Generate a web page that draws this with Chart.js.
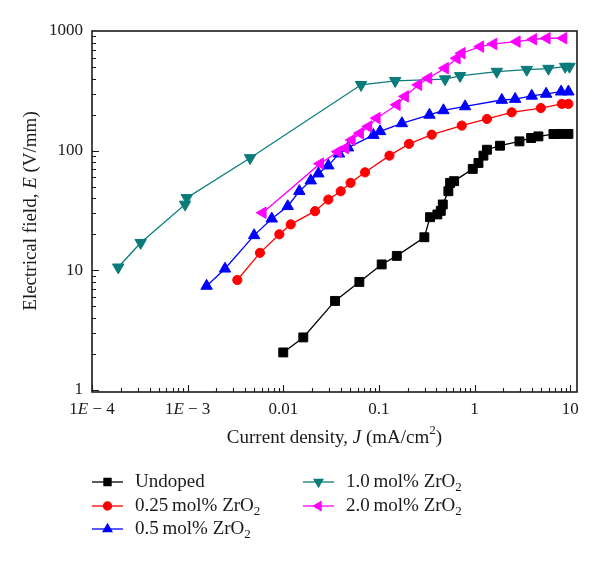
<!DOCTYPE html>
<html>
<head>
<meta charset="utf-8">
<script src="https://cdn.jsdelivr.net/npm/chart.js@4.4.0/dist/chart.umd.min.js"></script>
<style>
  html, body { margin: 0; padding: 0; background: #fff; }
</style>
</head>
<body>
<canvas id="chart" width="600" height="565"></canvas>
<script>
// axis ticks
const xTicks = [1e-4, 1e-3, 0.01, 0.1, 1, 10];
const xTickLabels = ['1E − 4', '1E − 3', '0.01', '0.1', '1', '10'];
const yTicks = [1, 10, 100, 1000];
const yTickLabels = ['1', '10', '100', '1000'];

// series (J in mA/cm2, E in V/mm)
const seriesNames = ['Undoped', '0.25 mol% ZrO2', '0.5 mol% ZrO2', '1.0 mol% ZrO2', '2.0 mol% ZrO2'];

const undopedJ = [0.01, 0.0162, 0.0348, 0.0625, 0.107, 0.154, 0.299, 0.343, 0.409, 0.444, 0.466, 0.533, 0.556, 0.612, 0.959, 1.10, 1.24, 1.35, 1.85, 2.95, 3.91, 4.66, 6.69, 7.86, 9.6];
const undopedE = [2.06, 2.75, 5.55, 8.0, 11.2, 13.2, 18.9, 27.8, 29.3, 31.4, 35.5, 45.8, 53.8, 55.6, 70.4, 78.9, 90.9, 101.8, 110, 119.6, 127.6, 131.6, 137.7, 138, 138];

const zr025J = [3.31e-3, 5.71e-3, 9.1e-3, 0.01197, 0.0215, 0.0296, 0.0399, 0.0506, 0.0717, 0.129, 0.207, 0.357, 0.736, 1.35, 2.45, 4.94, 8.19, 9.6];
const zr025E = [8.3, 14.0, 20.0, 24.2, 31.2, 39.0, 45.8, 53.8, 65.9, 90.9, 114, 136, 162, 184, 209, 227, 246, 246];

const zr05J = [1.58e-3, 2.46e-3, 4.96e-3, 7.58e-3, 0.01114, 0.01473, 0.0194, 0.0233, 0.0296, 0.0383, 0.0476, 0.0876, 0.103, 0.174, 0.338, 0.473, 0.797, 1.93, 2.66, 3.97, 5.61, 8.05, 9.6];
const zr05E = [7.4, 10.3, 19.6, 27.0, 34.3, 45.8, 56.2, 64.3, 75, 94.4, 106, 135, 145, 169, 199, 217, 234, 265, 270, 287, 298, 311, 311];

const zr10J = [1.88e-4, 3.23e-4, 9.4e-4, 9.8e-4, 4.5e-3, 0.0651, 0.148, 0.492, 0.707, 1.71, 3.52, 5.93, 8.87, 9.84];
const zr10E = [10.6, 17.0, 35.5, 40.3, 86.9, 355, 383, 396, 422, 458, 475, 485, 504, 504];

const zr20J = [6.11e-3, 0.0243, 0.0374, 0.0443, 0.0521, 0.0636, 0.0777, 0.0951, 0.154, 0.188, 0.259, 0.330, 0.492, 0.653, 0.736, 1.15, 1.58, 2.77, 4.13, 5.70, 8.51];
const zr20E = [30.3, 77.9, 98, 105, 123, 140, 159, 187, 242, 284, 355, 403, 489, 591, 652, 740, 780, 815, 853, 870, 870];

const FONT = '"Liberation Serif", "Times New Roman", serif';

function pts(J, E) {
  return J.map((j, i) => ({ x: j, y: E[i] }));
}

function makeSet(i, J, E, color, style, rot, radius) {
  return {
    label: seriesNames[i],
    data: pts(J, E),
    borderColor: color,
    backgroundColor: color,
    borderWidth: 1.3,
    pointStyle: style,
    pointRotation: rot,
    pointRadius: radius,
    pointBackgroundColor: color,
    pointBorderColor: color,
    pointBorderWidth: 1,
    tension: 0,
    order: 4 - i
  };
}

const datasets = [
  makeSet(0, undopedJ, undopedE, '#000000', 'rect', 0, 6.3),
  makeSet(1, zr025J, zr025E, '#ff0000', 'circle', 0, 4.6),
  makeSet(2, zr05J, zr05E, '#0000ff', 'triangle', 0, 6.6),
  makeSet(3, zr10J, zr10E, '#0a7b7b', 'triangle', 180, 6.6),
  makeSet(4, zr20J, zr20E, '#ff00ff', 'triangle', 270, 6.6)
];

// draws text pieces left to right; pieces: {t, it, sup, sub}
function richWidth(ctx, parts, size) {
  let w = 0;
  for (const p of parts) {
    const s = (p.sup || p.sub) ? Math.round(size * 0.68) : size;
    ctx.font = (p.it ? 'italic ' : '') + s + 'px ' + FONT;
    w += ctx.measureText(p.t).width;
  }
  return w;
}
function drawRich(ctx, parts, x, y, size, align) {
  let cx = x;
  if (align === 'center') cx = x - richWidth(ctx, parts, size) / 2;
  ctx.textAlign = 'left';
  ctx.textBaseline = 'middle';
  for (const p of parts) {
    const s = (p.sup || p.sub) ? Math.round(size * 0.68) : size;
    ctx.font = (p.it ? 'italic ' : '') + s + 'px ' + FONT;
    let dy = 0;
    if (p.sup) dy = -size * 0.38;
    if (p.sub) dy = size * 0.28;
    ctx.fillText(p.t, cx, y + dy);
    cx += ctx.measureText(p.t).width;
  }
}
function labelParts(label) {
  if (label.endsWith('ZrO2')) {
    return [{ t: label.slice(0, -1).replace(' mol', '\u2009mol') }, { t: '2', sub: true }];
  }
  return [{ t: label }];
}

const framePlugin = {
  id: 'frame',
  afterDraw(chart) {
    const ctx = chart.ctx;
    const a = chart.chartArea;
    const xs = chart.scales.x, ys = chart.scales.y;
    ctx.save();
    ctx.strokeStyle = '#1a1a1a';
    ctx.fillStyle = '#1a1a1a';

    // box
    ctx.lineWidth = 1.6;
    ctx.strokeRect(a.left, a.top, a.right - a.left, a.bottom - a.top);

    // inward tick marks
    ctx.lineWidth = 1.1;
    ctx.beginPath();
    for (let d = -4; d <= 1; d++) {
      for (let m = 1; m <= 9; m++) {
        const v = m * Math.pow(10, d);
        if (v < xs.min || v > xs.max) continue;
        const px = Math.round(xs.getPixelForValue(v)) + 0.5;
        const len = m === 1 ? 7 : 4;
        ctx.moveTo(px, a.bottom);
        ctx.lineTo(px, a.bottom - len);
      }
    }
    for (let d = 0; d <= 2; d++) {
      for (let m = 1; m <= 9; m++) {
        const v = m * Math.pow(10, d);
        if (v < ys.min || v > ys.max) continue;
        const py = Math.round(ys.getPixelForValue(v)) + 0.5;
        const len = m === 1 ? 7 : 4;
        ctx.moveTo(a.left, py);
        ctx.lineTo(a.left + len, py);
      }
    }
    ctx.stroke();

    // tick labels
    xTicks.forEach((v, i) => {
      const px = xs.getPixelForValue(v);
      const s = xTickLabels[i];
      let parts;
      if (s.includes('E')) {
        const k = s.indexOf('E');
        parts = [{ t: s.slice(0, k) }, { t: 'E', it: true }, { t: s.slice(k + 1) }];
      } else {
        parts = [{ t: s }];
      }
      drawRich(ctx, parts, px, a.bottom + 18, 17, 'center');
    });
    ctx.textAlign = 'right';
    ctx.textBaseline = 'middle';
    ctx.font = '17px ' + FONT;
    yTicks.forEach((v, i) => {
      ctx.fillText(yTickLabels[i], a.left - 9, ys.getPixelForValue(v));
    });

    // axis titles
    drawRich(ctx, [{ t: 'Current density, ' }, { t: 'J', it: true }, { t: ' (mA/cm' }, { t: '2', sup: true }, { t: ')' }],
      (a.left + a.right) / 2, 438, 19, 'center');
    ctx.save();
    ctx.translate(31, 211);
    ctx.rotate(-Math.PI / 2);
    drawRich(ctx, [{ t: 'Electrical field, ' }, { t: 'E', it: true }, { t: ' (V/mm)' }], 0, 0, 19, 'center');
    ctx.restore();

    // legend, two columns
    const cols = [92, 303];
    const rows = [482, 506, 529];
    chart.data.datasets.forEach((ds, i) => {
      const col = i < 3 ? 0 : 1;
      const row = i < 3 ? i : i - 3;
      const x0 = cols[col], y0 = rows[row];
      ctx.strokeStyle = ds.borderColor;
      ctx.lineWidth = 1.3;
      ctx.beginPath();
      ctx.moveTo(x0, y0);
      ctx.lineTo(x0 + 31, y0);
      ctx.stroke();
      ctx.fillStyle = ds.borderColor;
      Chart.helpers.drawPoint(ctx, {
        pointStyle: ds.pointStyle,
        rotation: ds.pointRotation,
        radius: ds.pointStyle === 'circle' ? 4 : 5,
        borderWidth: 1
      }, x0 + 15.5, y0);
      ctx.fillStyle = '#1a1a1a';
      drawRich(ctx, labelParts(ds.label), x0 + 43, y0, 19, 'left');
    });
    ctx.restore();
  }
};

new Chart(document.getElementById('chart').getContext('2d'), {
  type: 'line',
  data: { datasets },
  options: {
    responsive: false,
    animation: false,
    devicePixelRatio: 1,
    layout: { padding: { left: 0, right: 23, top: 31, bottom: 0 } },
    plugins: { legend: { display: false }, tooltip: { enabled: false } },
    scales: {
      x: {
        type: 'logarithmic',
        min: 1e-4,
        max: 11.8,
        grid: { display: false },
        border: { display: false },
        ticks: { display: false },
        afterFit: s => { s.height = 173; }
      },
      y: {
        type: 'logarithmic',
        min: 0.962,
        max: 1000,
        grid: { display: false },
        border: { display: false },
        ticks: { display: false },
        afterFit: s => { s.width = 92; }
      }
    }
  },
  plugins: [framePlugin]
});
</script>
</body>
</html>
